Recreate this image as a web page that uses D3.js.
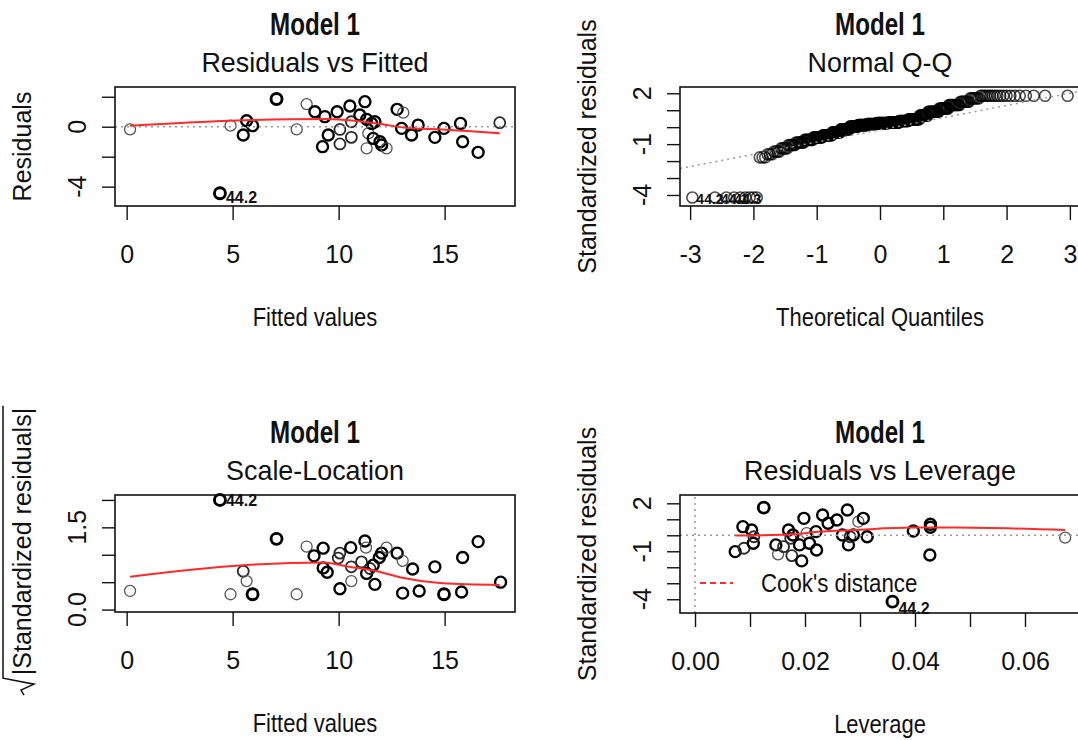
<!DOCTYPE html>
<html>
<head>
<meta charset="utf-8">
<script src="https://cdn.jsdelivr.net/npm/d3@7"></script>
<style>
  body { margin: 0; background: #fff; }
  text { font-family: "Liberation Sans", Arial, sans-serif; fill: #111; }
</style>
</head>
<body>
<div id="chart"></div>
<script>
// ---- data ----

// Residuals vs Fitted (count = how many observations sit on the same spot)
var rvfFitted = [0.16, 4.9, 5.5, 5.66, 5.94, 7.07, 8.02, 8.49, 8.88, 9.35, 9.51, 9.24, 9.93, 10.06, 10.06, 10.53, 10.6, 10.6, 11.0, 11.24, 11.32, 11.4, 11.32, 11.56, 11.63, 11.71, 11.95, 12.03, 12.26, 12.76, 13.05, 12.97, 13.44, 13.75, 14.54, 14.97, 15.75, 15.85, 16.58, 17.6, 4.4];
var rvfResid  = [-0.18, 0.07, -0.55, 0.4, 0.07, 1.85, -0.18, 1.51, 1.0, 0.67, -0.55, -1.33, 1.0, -0.18, -1.15, 1.38, 0.33, -0.71, 0.78, 1.67, 0.49, -0.44, -1.44, 0.22, -0.78, 0.33, -1.0, -1.22, -1.44, 1.16, 0.94, -0.11, -0.55, 0.11, -0.71, -0.11, 0.22, -1.0, -1.71, 0.27, -4.44];
var rvfCount  = [1, 1, 3, 3, 3, 4, 1, 1, 3, 3, 3, 3, 3, 2, 2, 3, 2, 2, 3, 3, 3, 1, 1, 3, 3, 3, 3, 3, 1, 3, 1, 3, 3, 3, 3, 3, 3, 3, 3, 2, 4];
var rvfSmoothX = [0.16, 4.9, 9.3, 11.8, 13.4, 14.9, 15.9, 17.6];
var rvfSmoothY = [0.07, 0.4, 0.51, 0.22, -0.11, -0.18, -0.27, -0.44];

// Normal Q-Q: distinct standardized residual levels and how many obs share each
var qqLevels = [-4.15, -1.78, -1.6, -1.44, -1.25, -1.05, -0.9, -0.75, -0.6, -0.48, -0.3, -0.12, 0.03, 0.12, 0.19, 0.24, 0.27, 0.36, 0.47, 0.68, 0.91, 1.1, 1.31, 1.5, 1.7, 1.85];
var qqCounts = [9, 3, 3, 4, 5, 6, 8, 10, 12, 14, 14, 16, 16, 18, 20, 24, 22, 18, 20, 14, 16, 12, 12, 8, 7, 19];
var qqIds = ["44.2", "44.1", "44.3"];
var qqSlope = 0.72, qqIntercept = -0.16;

// Scale-Location
var slFitted = [0.16, 4.9, 5.5, 5.66, 5.94, 7.07, 8.02, 8.49, 8.84, 9.27, 9.27, 9.46, 9.98, 10.06, 10.06, 10.57, 10.6, 10.6, 11.08, 11.24, 11.29, 11.32, 11.48, 11.63, 11.71, 11.92, 12.03, 12.26, 12.76, 13.02, 13.02, 13.49, 13.8, 14.54, 14.97, 15.8, 15.85, 16.58, 17.64, 4.4];
var slSqrt   = [0.34, 0.28, 0.70, 0.52, 0.28, 1.29, 0.28, 1.15, 0.98, 1.12, 0.76, 0.68, 0.94, 1.03, 0.38, 1.13, 0.52, 0.78, 0.87, 1.25, 1.13, 0.66, 0.75, 0.81, 0.46, 0.95, 1.03, 1.13, 1.03, 0.89, 0.30, 0.74, 0.34, 0.78, 0.28, 0.32, 0.95, 1.24, 0.50, 2.0];
var slCount  = [1, 1, 2, 1, 4, 4, 1, 1, 3, 3, 3, 3, 2, 2, 3, 3, 1, 2, 2, 3, 1, 3, 2, 3, 3, 3, 3, 1, 3, 1, 3, 3, 3, 3, 4, 3, 3, 3, 3, 4];
var slSmoothX = [0.16, 5.5, 9.3, 10.5, 11.8, 13.0, 14.9, 17.6];
var slSmoothY = [0.6, 0.81, 0.86, 0.78, 0.70, 0.58, 0.48, 0.45];

// Residuals vs Leverage
var rvlLev   = [0.0073, 0.0087, 0.0089, 0.0103, 0.0106, 0.0107, 0.0125, 0.0147, 0.0151, 0.0161, 0.017, 0.0174, 0.0176, 0.0178, 0.019, 0.0194, 0.0198, 0.0203, 0.0208, 0.0221, 0.022, 0.0232, 0.0242, 0.0258, 0.0268, 0.0277, 0.0279, 0.0282, 0.0288, 0.0297, 0.0306, 0.0313, 0.0397, 0.0428, 0.0428, 0.0427, 0.0673, 0.0359];
var rvlRes   = [-1.02, 0.54, -0.81, 0.33, -0.5, -0.09, 1.73, -0.6, -1.19, -0.71, 0.33, -0.19, -1.27, 0.02, -0.6, -1.6, 1.06, 0.13, -0.5, -0.92, 0.23, 1.27, 0.75, 0.96, 0.02, 1.58, -0.6, -0.09, 0.02, 0.85, 1.06, -0.09, 0.27, 0.69, 0.5, -1.23, -0.15, -4.15];
var rvlCount = [3, 3, 2, 3, 3, 2, 4, 3, 1, 2, 3, 2, 2, 3, 3, 3, 3, 1, 3, 3, 3, 3, 3, 3, 3, 3, 3, 2, 3, 1, 3, 3, 3, 3, 3, 3, 1, 4];
var rvlSmoothX = [0.0073, 0.018, 0.0227, 0.0288, 0.0397, 0.047, 0.0673];
var rvlSmoothY = [-0.02, 0.06, 0.23, 0.33, 0.48, 0.48, 0.33];

// ---- drawing ----
var width = 1078, height = 740;

var svg = d3.select("#chart").append("svg")
  .attr("width", width)
  .attr("height", height);

var strokeW = d3.scaleLinear().domain([1, 4]).range([1.3, 2.9]).clamp(true);
var strokeC = d3.scaleLinear().domain([1, 3]).range(["#555", "#000"]).clamp(true);

// R's fonts here are narrower than Liberation Sans, so squeeze horizontally
function squeeze(sel, f) {
  sel.each(function() {
    var L = this.getComputedTextLength();
    d3.select(this).attr("textLength", L * f).attr("lengthAdjust", "spacingAndGlyphs");
  });
}

// inverse normal cdf (Acklam)
function qnorm(p) {
  var a = [-39.69683028665376, 220.9460984245205, -275.9285104469687, 138.3577518672690, -30.66479806614716, 2.506628277459239];
  var b = [-54.47609879822406, 161.5858368580409, -155.6989798598866, 66.80131188771972, -13.28068155288572];
  var c = [-0.007784894002430293, -0.3223964580411365, -2.400758277161838, -2.549732539343734, 4.374664141464968, 2.938163982698783];
  var d = [0.007784695709041462, 0.3224671290700398, 2.445134137142996, 3.754408661907416];
  var q, r;
  if (p < 0.02425) {
    q = Math.sqrt(-2 * Math.log(p));
    return (((((c[0]*q+c[1])*q+c[2])*q+c[3])*q+c[4])*q+c[5]) / ((((d[0]*q+d[1])*q+d[2])*q+d[3])*q+1);
  }
  if (p > 1 - 0.02425) {
    q = Math.sqrt(-2 * Math.log(1 - p));
    return -(((((c[0]*q+c[1])*q+c[2])*q+c[3])*q+c[4])*q+c[5]) / ((((d[0]*q+d[1])*q+d[2])*q+d[3])*q+1);
  }
  q = p - 0.5; r = q * q;
  return (((((a[0]*r+a[1])*r+a[2])*r+a[3])*r+a[4])*r+a[5])*q / (((((b[0]*r+b[1])*r+b[2])*r+b[3])*r+b[4])*r+1);
}

var clipId = 0;

function panel(o) {
  var g = svg.append("g");
  var x = d3.scaleLinear().domain(o.xDomain).range([o.left, o.right]);
  var y = d3.scaleLinear().domain(o.yDomain).range([o.bottom, o.top]);
  var id = "clip" + (clipId++);
  g.append("clipPath").attr("id", id).append("rect")
    .attr("x", o.left).attr("y", o.top)
    .attr("width", o.right - o.left).attr("height", o.bottom - o.top);

  // titles
  g.append("text").attr("x", (o.left + o.right) / 2).attr("y", o.top - 52)
    .attr("text-anchor", "middle").style("font-size", "31px").style("font-weight", "bold")
    .text("Model 1").call(squeeze, 0.78);
  g.append("text").attr("x", (o.left + o.right) / 2).attr("y", o.top - 15)
    .attr("text-anchor", "middle").style("font-size", "28px")
    .text(o.title).call(squeeze, 0.96);

  // x axis
  var xa = g.append("g").attr("transform", "translate(0," + o.bottom + ")")
    .call(d3.axisBottom(x).tickValues(o.xTicks).tickSize(14).tickSizeOuter(0).tickPadding(25)
      .tickFormat(function(d, i) { return o.xLabels[i]; }));
  xa.select(".domain").remove();
  xa.selectAll("line").attr("stroke", "#111").attr("stroke-width", 1.4);
  xa.selectAll("text").style("font-size", "25px").attr("fill", "#111")
    .style("font-family", '"Liberation Sans", Arial, sans-serif');

  // y axis, labels rotated like base R
  var ya = g.append("g").attr("transform", "translate(" + o.left + ",0)")
    .call(d3.axisLeft(y).tickValues(o.yTicks).tickSize(13).tickSizeOuter(0).tickFormat(""));
  ya.select(".domain").remove();
  ya.selectAll("line").attr("stroke", "#111").attr("stroke-width", 1.4);
  g.selectAll(".ylab").data(o.yTicks).enter().append("text")
    .attr("transform", function(d) { return "translate(" + (o.left - 38) + "," + y(d) + ") rotate(-90)"; })
    .attr("text-anchor", "middle").attr("dy", "0.36em").style("font-size", "25px")
    .text(function(d, i) { return o.yLabels[i]; });

  // axis titles
  g.append("text").attr("x", (o.left + o.right) / 2).attr("y", o.bottom + 120)
    .attr("text-anchor", "middle").style("font-size", "25px").text(o.xTitle)
    .call(squeeze, 0.88);
  if (o.yTitle) {
    g.append("text")
      .attr("transform", "translate(" + (o.left - 93) + "," + (o.top + o.bottom) / 2 + ") rotate(-90)")
      .attr("text-anchor", "middle").attr("dy", "0.36em").style("font-size", "25px")
      .text(o.yTitle);
  }

  var plot = g.append("g");
  var lines = g.append("g").attr("clip-path", "url(#" + id + ")");
  // box
  g.append("rect").attr("x", o.left).attr("y", o.top)
    .attr("width", o.right - o.left).attr("height", o.bottom - o.top)
    .attr("fill", "none").attr("stroke", "#111").attr("stroke-width", 1.6);

  return { g: g, x: x, y: y, plot: plot, lines: lines, o: o };
}

function dotted(p, x1, y1, x2, y2) {
  p.lines.append("line")
    .attr("x1", p.x(x1)).attr("y1", p.y(y1)).attr("x2", p.x(x2)).attr("y2", p.y(y2))
    .attr("stroke", "#999").attr("stroke-width", 1.5).attr("stroke-dasharray", "2,4");
}

function circles(p, xs, ys, counts) {
  p.plot.selectAll("circle.pt").data(xs).enter().append("circle")
    .attr("class", "pt")
    .attr("cx", function(d) { return p.x(d); })
    .attr("cy", function(d, i) { return p.y(ys[i]); })
    .attr("r", 5.5)
    .attr("fill", "none")
    .attr("stroke", function(d, i) { return strokeC(counts[i]); })
    .attr("stroke-width", function(d, i) { return strokeW(counts[i]); });
}

function smooth(p, xs, ys) {
  var line = d3.line()
    .x(function(d) { return p.x(d); })
    .y(function(d, i) { return p.y(ys[i]); })
    .curve(d3.curveMonotoneX);
  p.lines.append("path").attr("d", line(xs))
    .attr("fill", "none").attr("stroke", "#ff2a2a").attr("stroke-width", 2);
}

function idLabel(p, xv, yv, txt, dx, dy) {
  return p.g.append("text").attr("x", p.x(xv) + dx).attr("y", p.y(yv) + dy)
    .style("font-size", "16px").style("font-weight", "bold").text(txt);
}

// 1. Residuals vs Fitted
var p1 = panel({
  left: 115, right: 515, top: 87, bottom: 206,
  xDomain: [-0.55, 18.32], yDomain: [-5.29, 2.65],
  xTicks: [0, 5, 10, 15], xLabels: ["0", "5", "10", "15"],
  yTicks: [-4, -2, 0, 2], yLabels: ["-4", "", "0", ""],
  title: "Residuals vs Fitted", xTitle: "Fitted values", yTitle: "Residuals"
});
dotted(p1, -0.55, 0, 18.32, 0);
circles(p1, rvfFitted, rvfResid, rvfCount);
smooth(p1, rvfSmoothX, rvfSmoothY);
idLabel(p1, 4.4, -4.44, "44.2", 6, 10);

// 2. Normal Q-Q
var p2 = panel({
  left: 680, right: 1080, top: 87, bottom: 206,
  xDomain: [-3.16, 3.16], yDomain: [-4.65, 2.37],
  xTicks: [-3, -2, -1, 0, 1, 2, 3], xLabels: ["-3", "-2", "-1", "0", "1", "2", "3"],
  yTicks: [-4, -3, -2, -1, 0, 1, 2], yLabels: ["-4", "", "", "-1", "", "", "2"],
  title: "Normal Q-Q", xTitle: "Theoretical Quantiles", yTitle: "Standardized residuals"
});
var qqY = [];
qqLevels.forEach(function(v, i) { for (var k = 0; k < qqCounts[i]; k++) qqY.push(v); });
var qqN = qqY.length;
var qqX = qqY.map(function(v, i) { return qnorm((i + 0.5) / qqN); });
dotted(p2, -3.16, qqIntercept - 3.16 * qqSlope, 3.16, qqIntercept + 3.16 * qqSlope);
p2.plot.selectAll("circle.qq").data(qqX).enter().append("circle")
  .attr("class", "qq")
  .attr("cx", function(d) { return p2.x(d); })
  .attr("cy", function(d, i) { return p2.y(qqY[i]); })
  .attr("r", 5.5).attr("fill", "none")
  .attr("stroke", "#000").attr("stroke-opacity", 0.7).attr("stroke-width", 1.6);
// the three most extreme points are labelled; in R these print on top of each other
qqIds.forEach(function(t, i) { idLabel(p2, qqX[i], qqY[i], t, 4 + i * 2, 6).style("font-size", "14px"); });

// 3. Scale-Location
var p3 = panel({
  left: 115, right: 515, top: 495, bottom: 612,
  xDomain: [-0.55, 18.32], yDomain: [-0.044, 2.09],
  xTicks: [0, 5, 10, 15], xLabels: ["0", "5", "10", "15"],
  yTicks: [0, 0.5, 1, 1.5, 2], yLabels: ["0.0", "", "", "1.5", ""],
  title: "Scale-Location", xTitle: "Fitted values", yTitle: null
});
circles(p3, slFitted, slSqrt, slCount);
smooth(p3, slSmoothX, slSmoothY);
idLabel(p3, 4.4, 2.0, "44.2", 6, 6);

// sqrt(|Standardized residuals|) axis title with a drawn radical
(function() {
  var cy = (495 + 612) / 2, cx = 115 - 93;
  var t = p3.g.append("g").attr("transform", "translate(" + cx + "," + cy + ") rotate(-90)");
  var txt = t.append("text").attr("x", 12).attr("text-anchor", "middle").attr("dy", "0.36em")
    .style("font-size", "25px").text("|Standardized residuals|");
  var w = txt.node().getComputedTextLength();
  var x0 = 12 - w / 2;
  t.append("path")
    .attr("d", "M" + (x0 - 20) + ",2 L" + (x0 - 15) + ",-1 L" + (x0 - 9) + ",12 L" + (x0 - 3) + ",-19 L" + (x0 + w + 2) + ",-19")
    .attr("fill", "none").attr("stroke", "#111").attr("stroke-width", 1.5);
})();

// 4. Residuals vs Leverage
var p4 = panel({
  left: 680, right: 1080, top: 495, bottom: 613,
  xDomain: [-0.00273, 0.07], yDomain: [-4.86, 2.52],
  xTicks: [0, 0.01, 0.02, 0.03, 0.04, 0.05, 0.06, 0.07], xLabels: ["0.00", "", "0.02", "", "0.04", "", "0.06", ""],
  yTicks: [-4, -3, -2, -1, 0, 1, 2], yLabels: ["-4", "", "", "-1", "", "", "2"],
  title: "Residuals vs Leverage", xTitle: "Leverage", yTitle: "Standardized residuals"
});
dotted(p4, -0.00273, 0, 0.07, 0);
dotted(p4, 0, -4.86, 0, 2.52);
circles(p4, rvlLev, rvlRes, rvlCount);
smooth(p4, rvlSmoothX, rvlSmoothY);
idLabel(p4, 0.0359, -4.15, "44.2", 6, 12);

// legend
p4.g.append("line").attr("x1", 700).attr("x2", 733).attr("y1", 583).attr("y2", 583)
  .attr("stroke", "#ff2a2a").attr("stroke-width", 2).attr("stroke-dasharray", "6,4");
p4.g.append("text").attr("x", 761).attr("y", 583).attr("dy", "0.36em")
  .style("font-size", "25px").attr("fill", "#222").text("Cook's distance")
  .call(squeeze, 0.89);
</script>
</body>
</html>
